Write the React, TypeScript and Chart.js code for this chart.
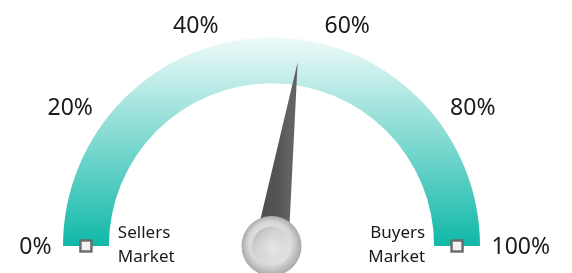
import React, { useEffect, useRef } from "react";
import { Chart, registerables } from "chart.js";

Chart.register(...registerables);

const arcValues = [100];
const needleValue = [54.5];
const tickValues = [0, 20, 40, 60, 80, 100];
const tickLabels = ["0%", "20%", "40%", "60%", "80%", "100%"];
const leftLabel = ["Sellers", "Market"];
const rightLabel = ["Buyers", "Market"];

const FONT = "'Noto Sans', 'DejaVu Sans', sans-serif";

const gaugePlugin = {
  id: "gaugeExtras",
  afterDraw(chart: any) {
    const ctx = chart.ctx as CanvasRenderingContext2D;
    const arc = chart.getDatasetMeta(0).data[0] as any;
    if (!arc) return;
    const cx = arc.x;
    const cy = arc.y;
    const outerR = arc.outerRadius;
    const innerR = arc.innerRadius;
    const midR = (outerR + innerR) / 2;
    const toAngle = (v: number) => Math.PI + (v / 100) * Math.PI;

    ctx.save();
    // end squares
    [0, 100].forEach((v) => {
      const a = toAngle(v);
      const x = cx + midR * Math.cos(a);
      const y = cy + midR * Math.sin(a);
      ctx.fillStyle = "#f2f2f2";
      ctx.strokeStyle = "#6b6b6b";
      ctx.lineWidth = 2.4;
      ctx.fillRect(x - 5.5, y - 5.5, 11, 11);
      ctx.strokeRect(x - 5.5, y - 5.5, 11, 11);
    });

    // tick labels
    ctx.fillStyle = "#1a1a1a";
    ctx.font = `23px ${FONT}`;
    ctx.textAlign = "center";
    ctx.textBaseline = "middle";
    tickValues.forEach((v, i) => {
      const a = toAngle(v);
      const cs = Math.cos(a) * Math.sin(a);
      const labelR = outerR + 11.5 + 27 * cs * cs;
      const w = ctx.measureText(tickLabels[i]).width;
      const h = 19;
      const ax = cx + labelR * Math.cos(a);
      const ay = cy + labelR * Math.sin(a);
      ctx.fillText(tickLabels[i], ax + Math.cos(a) * w / 2, ay + Math.sin(a) * h / 2 + 1);
    });

    // end labels
    ctx.font = `17px ${FONT}`;
    ctx.fillStyle = "#1a1a1a";
    ctx.textAlign = "left";
    ctx.fillText(leftLabel[0], cx - innerR + 9, cy - 13);
    ctx.fillText(leftLabel[1], cx - innerR + 9, cy + 11);
    ctx.textAlign = "right";
    ctx.fillText(rightLabel[0], cx + innerR - 9, cy - 13);
    ctx.fillText(rightLabel[1], cx + innerR - 9, cy + 11);

    // needle
    const a = toAngle(needleValue[0]);
    const len = outerR * 0.89;
    const hw = 17;
    const tx = cx + len * Math.cos(a);
    const ty = cy + len * Math.sin(a);
    const px = -Math.sin(a);
    const py = Math.cos(a);
    const ng = ctx.createLinearGradient(cx - hw, 0, cx + hw, 0);
    ng.addColorStop(0, "#4c4c4c");
    ng.addColorStop(0.7, "#555555");
    ng.addColorStop(1, "#626262");
    ctx.fillStyle = ng;
    ctx.beginPath();
    ctx.moveTo(tx, ty);
    ctx.lineTo(cx + px * hw, cy + py * hw);
    ctx.lineTo(cx - px * hw, cy - py * hw);
    ctx.closePath();
    ctx.fill();

    // knob
    const kr = 30;
    const og = ctx.createRadialGradient(cx - 4, cy - 8, 4, cx, cy, kr);
    og.addColorStop(0, "#eeeeee");
    og.addColorStop(0.7, "#d6d6d6");
    og.addColorStop(1, "#a9a9a9");
    ctx.fillStyle = og;
    ctx.beginPath();
    ctx.arc(cx, cy, kr, 0, Math.PI * 2);
    ctx.fill();

    const ir = 19.5;
    const ig = ctx.createLinearGradient(cx - ir, cy - ir, cx + ir, cy + ir);
    ig.addColorStop(0, "#b4b4b4");
    ig.addColorStop(0.35, "#d2d2d2");
    ig.addColorStop(1, "#e6e6e6");
    ctx.fillStyle = ig;
    ctx.beginPath();
    ctx.arc(cx, cy, ir, 0, Math.PI * 2);
    ctx.fill();
    const ig2 = ctx.createRadialGradient(cx + 2, cy + 3, 2, cx, cy, ir - 2);
    ig2.addColorStop(0, "rgba(230,230,230,0.9)");
    ig2.addColorStop(1, "rgba(215,215,215,0)");
    ctx.fillStyle = ig2;
    ctx.beginPath();
    ctx.arc(cx, cy, ir - 1.5, 0, Math.PI * 2);
    ctx.fill();
    ctx.restore();
  },
};

export default function App() {
  const ref = useRef<HTMLCanvasElement | null>(null);
  useEffect(() => {
    if (!ref.current) return;
    const chart = new Chart(ref.current, {
      type: "doughnut",
      data: {
        labels: ["Market"],
        datasets: [
          {
            data: arcValues,
            borderWidth: 0,
            backgroundColor: (context: any) => {
              const area = context.chart.chartArea;
              if (!area) return "#13b8a8";
              const g = context.chart.ctx.createLinearGradient(0, area.top, 0, area.bottom);
              g.addColorStop(0, "rgb(238,250,249)");
              g.addColorStop(1, "rgb(16,184,168)");
              return g;
            },
          },
        ],
      },
      options: {
        responsive: false,
        animation: false,
        events: [],
        circumference: 180,
        rotation: -90,
        cutout: "78%",
        radius: 208.5,
        layout: { padding: { left: 0, right: 29, top: 37.5, bottom: 27 } },
        plugins: { legend: { display: false }, tooltip: { enabled: false } },
      } as any,
      plugins: [gaugePlugin],
    });
    return () => chart.destroy();
  }, []);
  return (
    <div style={{ position: "fixed", left: 0, top: 0, width: 572, height: 273, background: "#fff" }}>
      <canvas ref={ref} width={572} height={273} style={{ display: "block" }} />
    </div>
  );
}
